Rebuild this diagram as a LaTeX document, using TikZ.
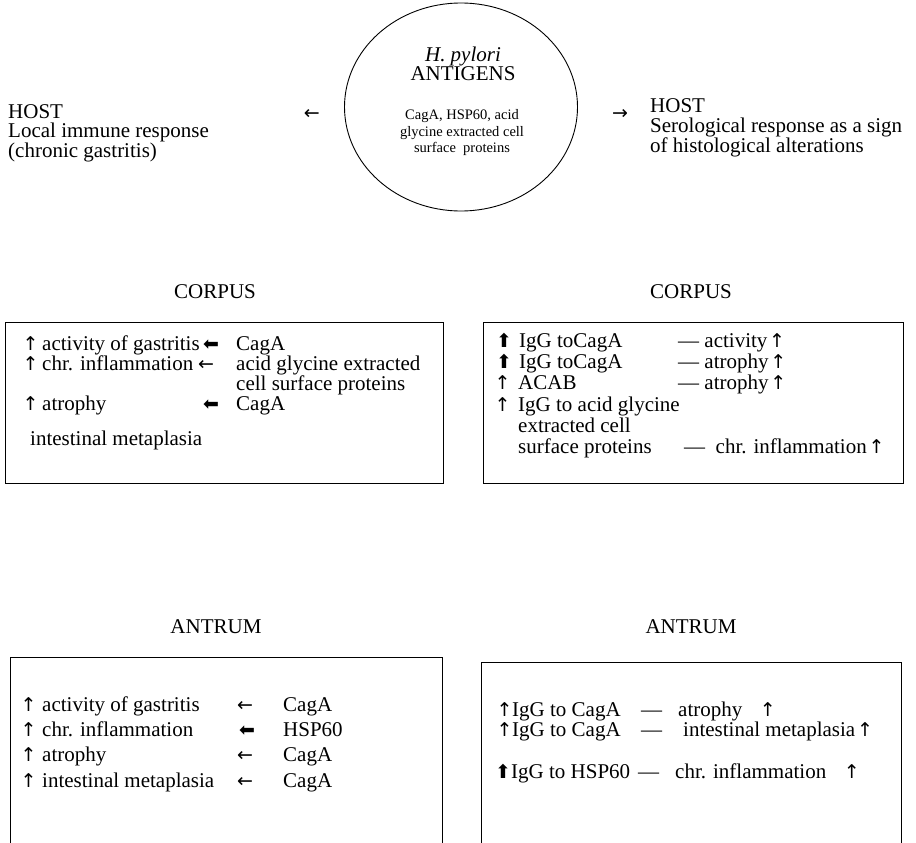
\documentclass[tikz,border=0pt]{standalone}
\usepackage{fontspec}
\setmainfont{Liberation Serif}
\newfontfamily\symfont{DejaVu Sans}
\usetikzlibrary{positioning,shapes.geometric}

\newcommand\bigtxt{\fontsize{21}{19.5}\selectfont}
\newcommand\smalltxt{\fontsize{14.5}{16.5}\selectfont}
\newcommand\thinup{\makebox[9pt][c]{\symfont\fontsize{19}{19}\selectfont ↑}}
\newcommand\thinleft{{\symfont\fontsize{19}{19}\selectfont ←}}
\newcommand\thinright{{\symfont\fontsize{19}{19}\selectfont →}}
\newcommand\boldleft{{\symfont\fontsize{19}{19}\selectfont ⬅}}
\newcommand\boldup{\makebox[14pt][c]{\symfont\fontsize{19}{19}\selectfont ⬆}}

\tikzset{
  txt/.style={anchor=base west, inner sep=0pt, font=\bigtxt},
  heading/.style={anchor=base, inner sep=0pt, font=\bigtxt},
  frame/.style={line width=0.9pt},
}

\begin{document}
\begin{tikzpicture}[x=1pt, y=-1pt]
  \useasboundingbox (0,0) rectangle (916,843);

  % antigens and host
  \node (ag) [draw, ellipse, line width=0.9pt, minimum width=233pt, minimum height=208pt, inner sep=0pt] at (461,107) {};
  \node (agname) [align=center, font=\bigtxt] at (463,64) {\textit{H. pylori}\\ANTIGENS};
  \node (aglist) [align=center, font=\smalltxt] at (462,133) {CagA, HSP60, acid\\glycine extracted cell\\surface\ \ proteins};
  \node (toleft) [left=24pt of ag, yshift=-7pt, inner sep=0pt] {\thinleft};
  \node (toright) [right=34pt of ag, yshift=-7pt, inner sep=0pt] {\thinright};
  \node (hostl) [txt] at (8,118) {HOST};
  \node (hostla) [txt] at (8,137.5) {Local immune response};
  \node (hostlb) [txt] at (8,157) {(chronic gastritis)};
  \node (hostr) [txt] at (650,113) {HOST};
  \node (hostra) [txt] at (650,132.5) {Serological response as a sign};
  \node (hostrb) [txt] at (650,152) {of histological alterations};

  % corpus
  \node (corpusl) [heading] at (215,298) {CORPUS};
  \node (corpusr) [heading] at (691,298) {CORPUS};
  \draw[frame] (5,322) rectangle (443,483);
  \draw[frame] (483,322) rectangle (903,483);

  \node (lc1) [txt] at (26,350) {\thinup\hspace{7pt}activity of gastritis};
  \node (lc1a) [txt] at (203,350) {\boldleft};
  \node (lc1b) [txt] at (236,350) {CagA};
  \node (lc2) [txt] at (26,370) {\thinup\hspace{7pt}chr. inflammation};
  \node (lc2a) [txt] at (198,370) {\thinleft};
  \node (lc2b) [txt] at (236,370) {acid glycine extracted};
  \node (lc3b) [txt] at (236,390) {cell surface proteins};
  \node (lc4) [txt] at (26,410) {\thinup\hspace{7pt}atrophy};
  \node (lc4a) [txt] at (203,410) {\boldleft};
  \node (lc4b) [txt] at (236,410) {CagA};
  \node (lc5) [txt] at (30,445) {intestinal metaplasia};

  \node (rc1) [txt] at (497,347) {\boldup\hspace{8pt}IgG toCagA};
  \node (rc1a) [txt] at (678,347) {— activity \thinup};
  \node (rc2) [txt] at (497,368) {\boldup\hspace{8pt}IgG toCagA};
  \node (rc2a) [txt] at (678,368) {— atrophy \thinup};
  \node (rc3) [txt] at (498,389) {\thinup\hspace{11pt}ACAB};
  \node (rc3a) [txt] at (678,389) {— atrophy \thinup};
  \node (rc4) [txt] at (498,411) {\thinup\hspace{11pt}IgG to acid glycine};
  \node (rc5) [txt] at (518,432) {extracted cell};
  \node (rc6) [txt] at (518,453) {surface proteins};
  \node (rc6a) [txt] at (684,453) {— \ chr. inflammation \thinup};

  % antrum
  \node (antruml) [heading] at (216,633) {ANTRUM};
  \node (antrumr) [heading] at (691,633) {ANTRUM};
  \draw[frame] (10,843) -- (10,657) -- (442,657) -- (442,843);
  \draw[frame] (481,843) -- (481,662) -- (901,662) -- (901,843);

  \node (la1) [txt] at (24,711) {\thinup\hspace{9pt}activity of gastritis};
  \node (la1a) [txt] at (237,711) {\thinleft};
  \node (la1b) [txt] at (283,711) {CagA};
  \node (la2) [txt] at (24,736) {\thinup\hspace{9pt}chr. inflammation};
  \node (la2a) [txt] at (239,736) {\boldleft};
  \node (la2b) [txt] at (283,736) {HSP60};
  \node (la3) [txt] at (24,761) {\thinup\hspace{9pt}atrophy};
  \node (la3a) [txt] at (237,761) {\thinleft};
  \node (la3b) [txt] at (283,761) {CagA};
  \node (la4) [txt] at (24,787) {\thinup\hspace{9pt}intestinal metaplasia};
  \node (la4a) [txt] at (237,787) {\thinleft};
  \node (la4b) [txt] at (283,787) {CagA};

  \node (ra1) [txt] at (500,716) {\thinup\hspace{3pt}IgG to CagA};
  \node (ra1a) [txt] at (641,716) {—};
  \node (ra1b) [txt] at (678,716) {atrophy\quad\thinup};
  \node (ra2) [txt] at (500,736) {\thinup\hspace{3pt}IgG to CagA};
  \node (ra2a) [txt] at (641,736) {—};
  \node (ra2b) [txt] at (683,736) {intestinal metaplasia \thinup};
  \node (ra3) [txt] at (496,778) {\boldup\hspace{1pt}IgG to HSP60};
  \node (ra3a) [txt] at (638,778) {—};
  \node (ra3b) [txt] at (675,778) {chr. inflammation\quad\thinup};
\end{tikzpicture}
\end{document}
